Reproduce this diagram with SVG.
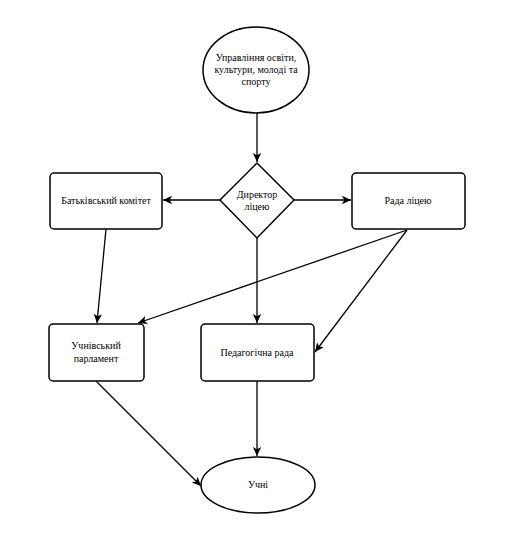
<svg xmlns="http://www.w3.org/2000/svg" width="508" height="539" viewBox="0 0 508 539">
<style>
.s{fill:#fff;stroke:#000;stroke-width:1.5}
.t{font-family:"Liberation Serif","Times New Roman",serif;font-size:10px;fill:#000;text-anchor:middle}
.c{stroke:#000;stroke-width:1.3;fill:none;marker-end:url(#a)}
</style>
<defs>
<marker id="a" markerWidth="10" markerHeight="10" refX="9" refY="5" orient="auto" markerUnits="userSpaceOnUse">
<path d="M0,0.8 L9,5 L0,9.2 L2.2,5 Z" fill="#000"/>
</marker>
</defs>
<rect width="508" height="539" fill="#fff"/>
<g id="connectors">
<line class="c" x1="257" y1="113" x2="257" y2="162"/>
<line class="c" x1="220" y1="200" x2="163" y2="200"/>
<line class="c" x1="294" y1="200" x2="351" y2="200"/>
<line class="c" x1="106" y1="229" x2="97" y2="323"/>
<line class="c" x1="407" y1="230" x2="138" y2="323"/>
<line class="c" x1="407" y1="230" x2="315" y2="352"/>
<line class="c" x1="257" y1="238" x2="257" y2="323"/>
<line class="c" x1="96" y1="381" x2="201" y2="486"/>
<line class="c" x1="257" y1="381" x2="257" y2="456"/>
</g>
<g id="upravlinnia">
<ellipse class="s" cx="256" cy="70" rx="53" ry="43"/>
<text class="t" x="256" y="61">Управління освіти,</text>
<text class="t" x="256" y="73">культури, молоді та</text>
<text class="t" x="256" y="85">спорту</text>
</g>
<g id="dyrektor">
<polygon class="s" points="257,163 294,200 257,238 220,200"/>
<text class="t" x="257" y="198">Директор</text>
<text class="t" x="257" y="210">ліцею</text>
</g>
<g id="batkivskyi">
<rect class="s" x="50" y="173" width="112" height="56" rx="4"/>
<text class="t" x="106" y="204">Батьківський комітет</text>
</g>
<g id="rada">
<rect class="s" x="352" y="173" width="113" height="56" rx="4"/>
<text class="t" x="408" y="204">Рада ліцею</text>
</g>
<g id="parlament">
<rect class="s" x="49" y="324" width="95" height="57" rx="4"/>
<text class="t" x="96" y="349">Учнівський</text>
<text class="t" x="96" y="362">парламент</text>
</g>
<g id="pedrada">
<rect class="s" x="201" y="324" width="113" height="57" rx="4"/>
<text class="t" x="257" y="356">Педагогічна рада</text>
</g>
<g id="uchni">
<ellipse class="s" cx="258" cy="485" rx="57" ry="28"/>
<text class="t" x="258" y="488">Учні</text>
</g>
</svg>
